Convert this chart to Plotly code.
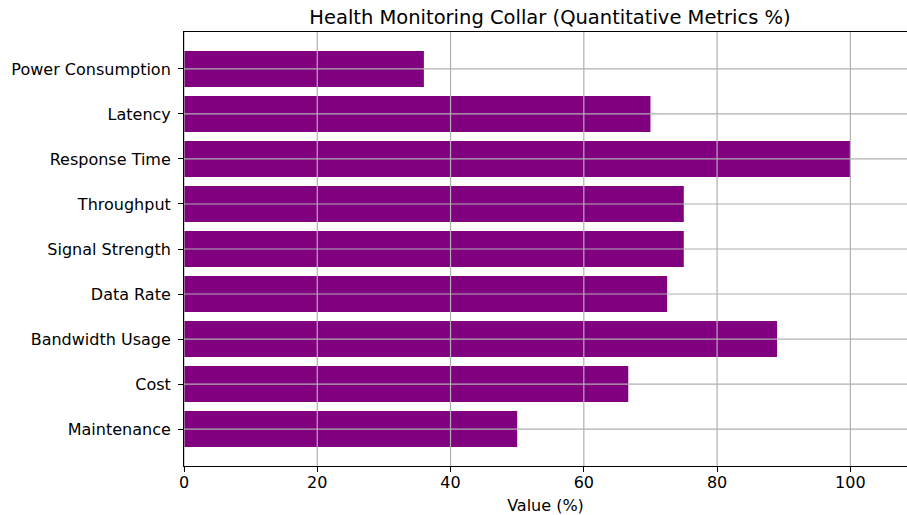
import plotly.graph_objects as go

# Data (top-to-bottom in the picture)
categories = ["Power Consumption", "Latency", "Response Time", "Throughput",
              "Signal Strength", "Data Rate", "Bandwidth Usage", "Cost", "Maintenance"]
values = [36.0, 70.0, 100.0, 75.0, 75.0, 72.5, 89.0, 66.67, 50.0]
x_ticks = [0, 20, 40, 60, 80, 100]

# bottom-to-top order for plotting
cats_bt = categories[::-1]
vals_bt = values[::-1]

W, H = 907, 515
FONT = "DejaVu Sans"
GRID = "#b0b0b0"

fig = go.Figure()
fig.add_trace(go.Bar(
    y=cats_bt, x=vals_bt, orientation="h",
    marker=dict(color="#800080", line=dict(width=0)),
    width=0.8,
))

# grid lines drawn above bars (matplotlib style)
shapes = []
for t in x_ticks:
    shapes.append(dict(type="line", xref="x", yref="paper", x0=t, x1=t, y0=0, y1=1,
                       line=dict(color=GRID, width=1.2), layer="above"))
for c in cats_bt:
    shapes.append(dict(type="line", xref="paper", yref="y", x0=0, x1=1, y0=c, y1=c,
                       line=dict(color=GRID, width=1.2), layer="above"))

fig.update_layout(
    width=W, height=H,
    margin=dict(l=184, r=0, t=32, b=49),
    paper_bgcolor="white", plot_bgcolor="white",
    font=dict(family=FONT, size=16, color="black"),
    showlegend=False,
    bargap=0.2,
    shapes=shapes,
    title=dict(text="Health Monitoring Collar (Quantitative Metrics %)",
               x=550 / W, xanchor="center", xref="container",
               y=1 - 17 / H, yanchor="middle", yref="container",
               font=dict(family=FONT, size=19.5, color="black")),
)

fig.update_xaxes(
    range=[0, 108.5], tickvals=x_ticks, ticktext=[str(t) for t in x_ticks],
    showgrid=False, zeroline=False,
    showline=True, linecolor="black", linewidth=1, mirror=True,
    ticks="outside", ticklen=5, tickwidth=1, tickcolor="black",
    ticklabelstandoff=-3,
    tickfont=dict(family=FONT, size=16, color="black"),
    title=dict(text="Value (%)", font=dict(family=FONT, size=16, color="black"), standoff=8),
)
fig.update_yaxes(
    type="category", categoryorder="array", categoryarray=cats_bt,
    range=[-0.82, len(cats_bt) - 1 + 0.82],
    showgrid=False, zeroline=False,
    showline=True, linecolor="black", linewidth=1, mirror=True,
    ticks="outside", ticklen=5, tickwidth=1, tickcolor="black",
    ticklabelstandoff=4,
    tickfont=dict(family=FONT, size=16, color="black"),
)

fig.write_html("out.html",
               config={"displayModeBar": False},
               post_script="document.body.style.margin='0';document.body.style.overflow='hidden';")
